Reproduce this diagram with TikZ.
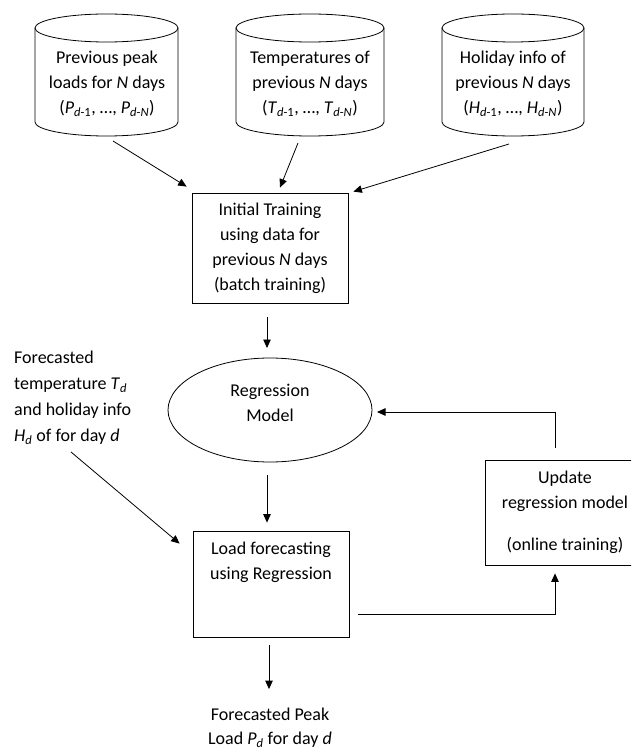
\documentclass[tikz,border=0pt]{standalone}
\usepackage{fontspec}
\setmainfont{Carlito}
\usetikzlibrary{arrows.meta}
\newcommand\drawcyl[2]{%
  \draw[cylline] (#1,-28) ellipse [x radius=#2, y radius=14];
  \draw[cylline] (#1-#2,-28) -- (#1-#2,-122) arc[start angle=180,end angle=360,x radius=#2,y radius=14] -- (#1+#2,-28);
}
\begin{document}
\begin{tikzpicture}[x=1pt,y=1pt,
  txt/.style={font=\fontsize{18}{25}\selectfont, align=center, inner sep=0pt},
  cylline/.style={draw=black, line width=0.8pt},
  boxnode/.style={draw=black, line width=0.8pt, inner sep=0pt, font=\fontsize{18}{25}\selectfont, align=center},
  arr/.style={-{Triangle[length=8.5pt,width=7.5pt]}, line width=0.8pt},
  ln/.style={line width=0.8pt}
]
\useasboundingbox (0,0) rectangle (631,-751);
\clip (0,0) rectangle (631,-751);
\fill[white] (0,0) rectangle (631,-751);

% cylinders
\drawcyl{106.5}{71.5}
\drawcyl{310}{74}
\drawcyl{513}{71}
\node[txt] (c1) at (107,-84) {Previous peak\\loads for \textit{N} days\\(\textit{P}\textsubscript{\textit{d}-1}, …, \textit{P}\textsubscript{\textit{d}-\textit{N}})};
\node[txt] (c2) at (310,-84) {Temperatures of\\previous \textit{N} days\\(\textit{T}\textsubscript{\textit{d}-1}, …, \textit{T}\textsubscript{\textit{d}-\textit{N}})};
\node[txt] (c3) at (513,-84) {Holiday info of\\previous \textit{N} days\\(\textit{H}\textsubscript{\textit{d}-1}, …, \textit{H}\textsubscript{\textit{d}-\textit{N}})};

% initial training box
\node[boxnode, minimum width=156pt, minimum height=110pt] (init) at (270,-248)
  {Initial Training\\using data for\\previous \textit{N} days\\(batch training)};

% regression model ellipse
\draw[ln] (270,-410) ellipse [x radius=102, y radius=52];
\coordinate (rmN) at (270,-358);
\coordinate (rmS) at (270,-462);
\coordinate (rmE) at (372,-410);
\node[txt] (rm) at (270,-403) {Regression\\Model};

% load forecasting box
\node[boxnode, minimum width=156pt, minimum height=106pt] (load) at (271,-584) {};
\node[txt] (loadtxt) at (271,-562) {Load forecasting\\using Regression};

% update box (cut by the right edge)
\node[boxnode, minimum width=160pt, minimum height=105pt] (upd) at (565,-512.5)
  {Update\\regression model\\[17pt](online training)};

% forecasted input text
\node[txt, align=left, anchor=west, font=\fontsize{18}{26}\selectfont] (fc) at (14,-397.5)
  {Forecasted\\temperature \textit{T}\textsubscript{\textit{d}}\\and holiday info\\\textit{H}\textsubscript{\textit{d}} of for day \textit{d}};

% output text
\node[txt, font=\fontsize{18}{24}\selectfont] (out) at (270,-728) {Forecasted Peak\\Load \textit{P}\textsubscript{\textit{d}} for day \textit{d}};

% connectors
\draw[arr] ([shift={(6,-57)}]c1.center) -- ([shift={(-5,6)}]init.north west);
\draw[arr] ([shift={(-12,-59)}]c2.center) -- ([shift={(10,5)}]init.north);
\draw[arr] ([shift={(-4,-60)}]c3.center) -- ([shift={(5,1)}]init.north east);
\draw[arr] ([shift={(-3,-14)}]init.south) -- ([shift={(-3,10)}]rmN);
\draw[arr] ([shift={(-3,-13)}]rmS) -- ([shift={(-4,8)}]load.north);
\draw[arr] ([shift={(-2,-8)}]load.south) -- ([shift={(-1,19)}]out.north);
\draw[arr] ([shift={(57,-54.5)}]fc.west) -- ([shift={(-13,-13)}]load.north west);
\draw[arr] ([shift={(9,-30)}]load.east) -| ([shift={(-10,-8)}]upd.south);
\draw[arr] ([shift={(-10,12)}]upd.north) |- ([shift={(5,-2)}]rmE);
\end{tikzpicture}
\end{document}
